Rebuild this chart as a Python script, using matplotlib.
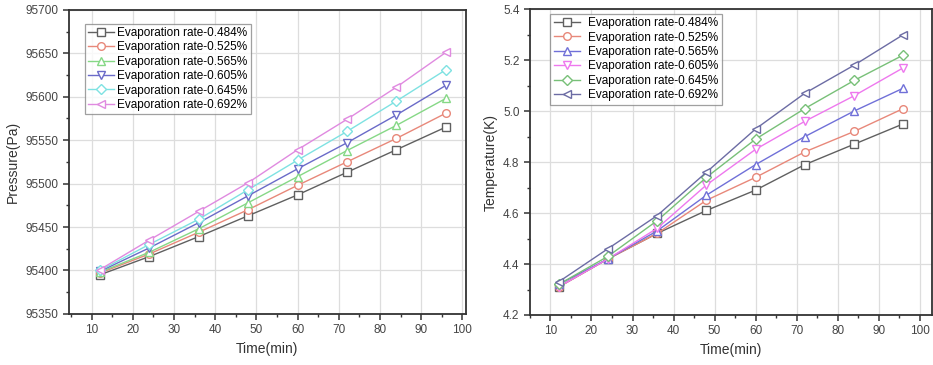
import matplotlib
matplotlib.use("Agg")
import matplotlib.pyplot as plt
from matplotlib.ticker import MultipleLocator

plt.rcParams['font.family'] = ['Liberation Sans', 'DejaVu Sans']

time = [12, 24, 36, 48, 60, 72, 84, 96]
rates = ["0.484%", "0.525%", "0.565%", "0.605%", "0.645%", "0.692%"]

pressure = [
    [95395, 95416, 95439, 95463, 95487, 95513, 95539, 95565],
    [95397, 95419, 95444, 95470, 95498, 95525, 95552, 95581],
    [95398, 95421, 95448, 95478, 95508, 95538, 95567, 95598],
    [95399, 95426, 95455, 95486, 95517, 95547, 95579, 95613],
    [95400, 95430, 95459, 95493, 95527, 95560, 95595, 95631],
    [95401, 95435, 95468, 95501, 95539, 95574, 95611, 95651],
]
temperature = [
    [4.31, 4.42, 4.52, 4.61, 4.69, 4.79, 4.87, 4.95],
    [4.31, 4.42, 4.52, 4.65, 4.74, 4.84, 4.92, 5.01],
    [4.32, 4.42, 4.53, 4.67, 4.79, 4.90, 5.00, 5.09],
    [4.31, 4.42, 4.54, 4.71, 4.85, 4.96, 5.06, 5.17],
    [4.32, 4.43, 4.57, 4.74, 4.89, 5.01, 5.12, 5.22],
    [4.33, 4.46, 4.59, 4.76, 4.93, 5.07, 5.18, 5.30],
]

left_colors = ["#606060", "#e8887a", "#86d886", "#6a6ac8", "#7ee2e2", "#e08ae0"]
right_colors = ["#606060", "#e8887a", "#7070d8", "#ee78ee", "#78c078", "#6c6ca4"]
markers = ["s", "o", "^", "v", "D", "<"]


def style_axes(ax, ylab):
    for sp in ax.spines.values():
        sp.set_linewidth(1.3)
        sp.set_color("#333333")
    ax.xaxis.set_major_locator(MultipleLocator(10))
    ax.xaxis.set_minor_locator(MultipleLocator(5))
    ax.tick_params(which="major", direction="out", length=4, width=1.1, labelsize=8.5,
                   colors="#333333", labelcolor="#444444")
    ax.tick_params(which="minor", direction="out", length=2.5, width=1.0, colors="#333333")
    ax.grid(True, which="major", color="#dddddd", linewidth=0.9)
    ax.set_axisbelow(True)
    ax.set_xlabel("Time(min)", fontsize=10, labelpad=4, color="#333333")
    ax.set_ylabel(ylab, fontsize=10, labelpad=4, color="#333333")


fig = plt.figure(figsize=(9.33, 3.65), dpi=100)
ax1 = fig.add_axes([0.074, 0.140, 0.425, 0.833])
ax2 = fig.add_axes([0.568, 0.137, 0.431, 0.838])

for i in range(len(rates)):
    ms = 5 if markers[i] == "D" else 5.5
    ax1.plot(time, pressure[i], color=left_colors[i], marker=markers[i],
             markerfacecolor="white", markersize=ms,
             markeredgewidth=1.0, linewidth=1.0, label="Evaporation rate-" + rates[i])
    ax2.plot(time, temperature[i], color=right_colors[i], marker=markers[i],
             markerfacecolor="white", markersize=ms,
             markeredgewidth=1.0, linewidth=1.0, label="Evaporation rate-" + rates[i])

ax1.set_xlim(4.5, 100.8)
ax1.set_ylim(95350, 95700)
ax1.yaxis.set_major_locator(MultipleLocator(50))
ax1.yaxis.set_minor_locator(MultipleLocator(25))
style_axes(ax1, "Pressure(Pa)")

ax2.set_xlim(5, 103)
ax2.set_ylim(4.2, 5.4)
ax2.yaxis.set_major_locator(MultipleLocator(0.2))
ax2.yaxis.set_minor_locator(MultipleLocator(0.1))
ax2.yaxis.set_major_formatter(matplotlib.ticker.FormatStrFormatter("%.1f"))
style_axes(ax2, "Temperature(K)")

for ax, anchor, pad in ((ax1, (0.04, 0.955), 0.2), (ax2, (0.05, 0.985), 0.7)):
    leg = ax.legend(loc="upper left", bbox_to_anchor=anchor, fontsize=8.5, frameon=True,
                    fancybox=False, edgecolor="#888888", handlelength=2.2,
                    handletextpad=pad, labelspacing=0.2, borderpad=0.3, borderaxespad=0)
    leg.get_frame().set_linewidth(0.9)

fig.savefig("out.png", dpi=100)
